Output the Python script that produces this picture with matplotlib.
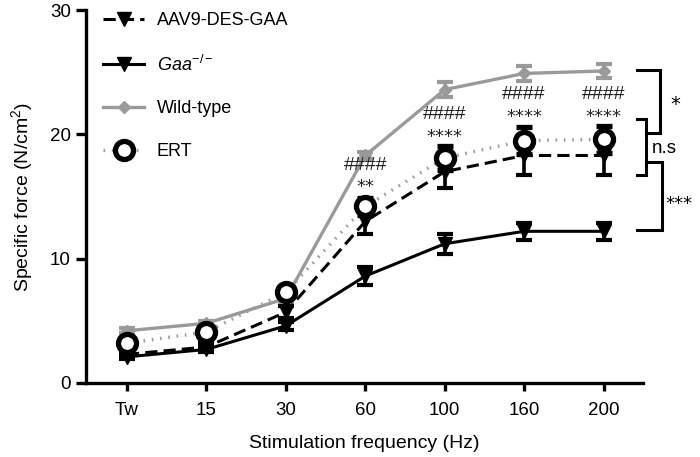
import matplotlib
matplotlib.use("Agg")
import matplotlib.pyplot as plt
from matplotlib.lines import Line2D

plt.rcParams['font.family'] = ['Liberation Sans', 'DejaVu Sans']
plt.rcParams['mathtext.fontset'] = 'custom'
plt.rcParams['mathtext.rm'] = 'Liberation Sans'
plt.rcParams['mathtext.it'] = 'Liberation Sans:italic'

categories = ['Tw', '15', '30', '60', '100', '160', '200']
wt = [4.2, 4.8, 6.8, 18.3, 23.6, 24.9, 25.1]
wt_err = [0.2, 0.2, 0.3, 0.3, 0.6, 0.6, 0.6]
ert = [3.2, 4.1, 7.3, 14.2, 18.1, 19.5, 19.6]
ert_err = [0.3, 0.4, 0.4, 0.7, 1.0, 1.1, 1.1]
aav = [2.3, 2.9, 5.7, 13.0, 17.0, 18.3, 18.3]
aav_err = [0.3, 0.3, 0.5, 1.0, 1.3, 1.6, 1.6]
gaa = [2.1, 2.7, 4.6, 8.6, 11.2, 12.2, 12.2]
gaa_err = [0.2, 0.2, 0.3, 0.7, 0.8, 0.7, 0.7]

sig_idx = [3, 4, 5, 6]
hash_labels = ['####', '####', '####', '####']
hash_y = [17.5, 21.6, 23.2, 23.2]
star_labels = ['**', '****', '****', '****']
star_y = [15.8, 19.8, 21.4, 21.4]

fig = plt.figure(figsize=(7.0, 4.57), dpi=100)
ax = fig.add_axes([0.123, 0.162, 0.796, 0.816])
x = list(range(len(categories)))

gray = '#9a9a9a'
ek = dict(capsize=6, capthick=3, elinewidth=2.6)

ax.errorbar(x, wt, yerr=wt_err, color=gray, marker='D', ms=6, lw=2.4,
            ecolor=gray, zorder=2, **ek)
ax.errorbar(x, gaa, yerr=gaa_err, color='black', marker='v', ms=10, lw=2.2,
            ecolor='black', zorder=3, **ek)
ax.errorbar(x, aav, yerr=aav_err, color='black', marker='v', ms=10, lw=2.2,
            ls=(0, (4, 2)), ecolor='black', zorder=4, **ek)
ax.errorbar(x, ert, yerr=ert_err, color=gray, marker='o', ms=13, mfc='white',
            mec='black', mew=3.8, lw=2.4, ls=(0, (0.5, 2)), ecolor='black',
            zorder=5, **ek)

for i, h, hy, s, sy in zip(sig_idx, hash_labels, hash_y, star_labels, star_y):
    ax.text(i, hy, h, ha='center', va='center', fontsize=14, color='#222222')
    ax.text(i, sy, s, ha='center', va='center', fontsize=13, color='#222222',
            family='DejaVu Sans')

# brackets
bk = dict(color='black', lw=2.2, clip_on=False, solid_joinstyle='miter')
ax.plot([6.42, 6.71, 6.71, 6.53], [25.2, 25.2, 20.1, 20.1], **bk)
ax.plot([6.42, 6.53, 6.53, 6.42], [21.2, 21.2, 16.7, 16.7], **bk)
ax.plot([6.53, 6.73, 6.73, 6.42], [17.8, 17.8, 12.3, 12.3], **bk)
ax.text(6.90, 22.4, '*', ha='center', va='center', fontsize=14,
        family='DejaVu Sans', clip_on=False)
ax.text(6.61, 18.9, 'n.s', ha='left', va='center', fontsize=13.5, clip_on=False)
ax.text(6.775, 14.4, '***', ha='left', va='center', fontsize=13,
        family='DejaVu Sans', clip_on=False)

ax.set_xlim(-0.515, 6.5)
ax.set_ylim(0, 30)
ax.set_xticks(x)
ax.set_xticklabels(categories)
ax.set_yticks([0, 10, 20, 30])
for s in ['top', 'right']:
    ax.spines[s].set_visible(False)
for s in ['left', 'bottom']:
    ax.spines[s].set_linewidth(2.4)
ax.tick_params(axis='both', direction='out', width=2.4, labelsize=13.5)
ax.tick_params(axis='y', length=7, pad=4)
ax.tick_params(axis='x', length=6, pad=8)
ax.set_xlabel('Stimulation frequency (Hz)', fontsize=14, labelpad=11)
ax.set_ylabel('Specific force (N/cm$^2$)', fontsize=14, labelpad=11)

handles = [
    Line2D([], [], color='black', marker='v', ms=10, lw=2.2, ls=(0, (4, 2))),
    Line2D([], [], color='black', marker='v', ms=10, lw=2.2),
    Line2D([], [], color=gray, marker='D', ms=6, lw=2.4),
    Line2D([], [], color=gray, marker='o', ms=13, mfc='white', mec='black',
           mew=3.8, lw=2.4, ls=(0, (0.5, 2))),
]
labels = ['AAV9-DES-GAA', r'$\mathit{Gaa}^{-/-}$', 'Wild-type', 'ERT']
ax.legend(handles, labels, loc='upper left', bbox_to_anchor=(0.03, 0.995),
          frameon=False, fontsize=13, labelspacing=1.42, handlelength=2.3,
          handletextpad=0.7, borderaxespad=0.0, borderpad=0.0)

fig.savefig('out.png', dpi=100)
